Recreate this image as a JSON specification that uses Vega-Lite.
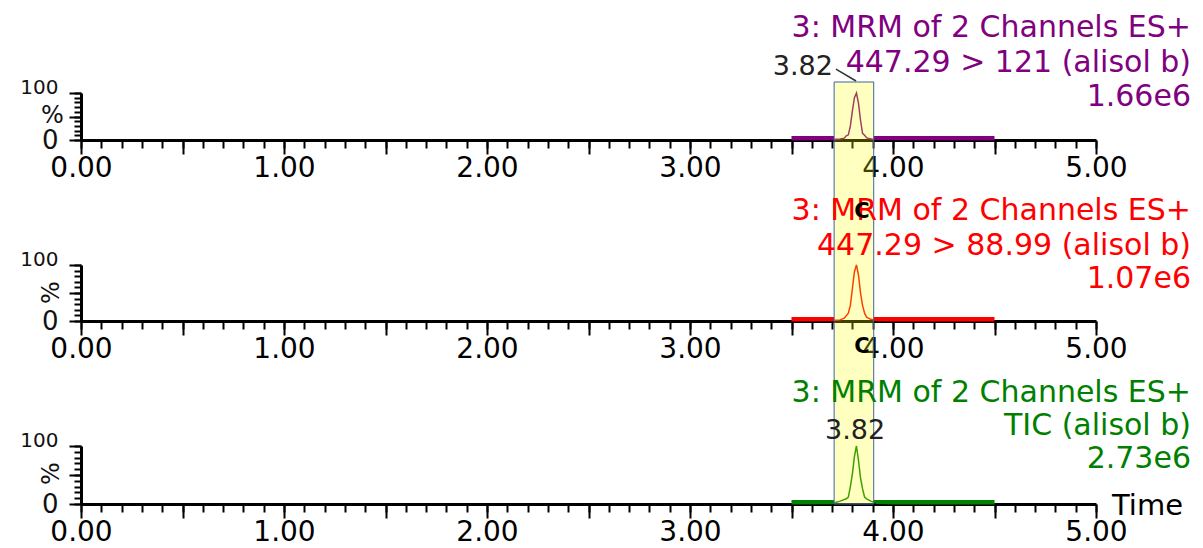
{
  "$schema": "https://vega.github.io/schema/vega-lite/v6.json",
  "autosize": {"type": "none"},
  "padding": {"left": 81, "top": 93, "right": 1122, "bottom": 455},
  "background": "white",
  "bounds": "flush",
  "spacing": 125,
  "config": {"view": {"stroke": null}, "font": "DejaVu Sans"},
  "datasets": {
    "trace": [
      {"p": 1, "t": 3.50, "v": 0.5}, {"p": 1, "t": 3.60, "v": 0.5}, {"p": 1, "t": 3.70, "v": 1}, {"p": 1, "t": 3.74, "v": 2},
      {"p": 1, "t": 3.76, "v": 4}, {"p": 1, "t": 3.77, "v": 9}, {"p": 1, "t": 3.78, "v": 11}, {"p": 1, "t": 3.79, "v": 30},
      {"p": 1, "t": 3.80, "v": 62}, {"p": 1, "t": 3.81, "v": 90}, {"p": 1, "t": 3.82, "v": 100}, {"p": 1, "t": 3.83, "v": 78},
      {"p": 1, "t": 3.84, "v": 42}, {"p": 1, "t": 3.85, "v": 14}, {"p": 1, "t": 3.86, "v": 10}, {"p": 1, "t": 3.87, "v": 5},
      {"p": 1, "t": 3.88, "v": 3}, {"p": 1, "t": 3.90, "v": 1.5}, {"p": 1, "t": 4.00, "v": 0.8}, {"p": 1, "t": 4.50, "v": 0.5},
      {"p": 2, "t": 3.50, "v": 0.5}, {"p": 2, "t": 3.70, "v": 1}, {"p": 2, "t": 3.74, "v": 2}, {"p": 2, "t": 3.76, "v": 5},
      {"p": 2, "t": 3.78, "v": 14}, {"p": 2, "t": 3.79, "v": 28}, {"p": 2, "t": 3.80, "v": 58}, {"p": 2, "t": 3.81, "v": 88},
      {"p": 2, "t": 3.82, "v": 100}, {"p": 2, "t": 3.83, "v": 82}, {"p": 2, "t": 3.84, "v": 50}, {"p": 2, "t": 3.85, "v": 28},
      {"p": 2, "t": 3.86, "v": 14}, {"p": 2, "t": 3.87, "v": 7}, {"p": 2, "t": 3.89, "v": 3}, {"p": 2, "t": 3.92, "v": 1},
      {"p": 2, "t": 4.00, "v": 0.5}, {"p": 2, "t": 4.50, "v": 0.5},
      {"p": 3, "t": 3.50, "v": 0.5}, {"p": 3, "t": 3.70, "v": 1}, {"p": 3, "t": 3.74, "v": 5}, {"p": 3, "t": 3.77, "v": 9},
      {"p": 3, "t": 3.78, "v": 12}, {"p": 3, "t": 3.79, "v": 30}, {"p": 3, "t": 3.80, "v": 52}, {"p": 3, "t": 3.81, "v": 82},
      {"p": 3, "t": 3.82, "v": 100}, {"p": 3, "t": 3.83, "v": 75}, {"p": 3, "t": 3.84, "v": 45}, {"p": 3, "t": 3.85, "v": 26},
      {"p": 3, "t": 3.86, "v": 12}, {"p": 3, "t": 3.87, "v": 9}, {"p": 3, "t": 3.89, "v": 5}, {"p": 3, "t": 3.92, "v": 1.5},
      {"p": 3, "t": 4.00, "v": 0.5}, {"p": 3, "t": 4.50, "v": 0.5}
    ],
    "base": [
      {"p": 1, "t1": 3.5, "t2": 3.71}, {"p": 1, "t1": 3.905, "t2": 4.5},
      {"p": 2, "t1": 3.5, "t2": 3.71}, {"p": 2, "t1": 3.905, "t2": 4.5},
      {"p": 3, "t1": 3.5, "t2": 3.71}, {"p": 3, "t1": 3.905, "t2": 4.5}
    ],
    "titles": [
      {"p": 1, "t": 5.468, "v": 219.1, "s": "3: MRM of 2 Channels ES+"},
      {"p": 1, "t": 5.468, "v": 145.7, "s": "447.29 > 121 (alisol b)"},
      {"p": 1, "t": 5.468, "v": 71.3, "s": "1.66e6"},
      {"p": 2, "t": 5.468, "v": 180.4, "s": "3: MRM of 2 Channels ES+"},
      {"p": 2, "t": 5.468, "v": 117.9, "s": "447.29 > 88.99 (alisol b)"},
      {"p": 2, "t": 5.468, "v": 58.9, "s": "1.07e6"},
      {"p": 3, "t": 5.468, "v": 175.9, "s": "3: MRM of 2 Channels ES+"},
      {"p": 3, "t": 5.468, "v": 119.0, "s": "TIC (alisol b)"},
      {"p": 3, "t": 5.468, "v": 62.1, "s": "2.73e6"}
    ],
    "peaklab": [
      {"p": 1, "t": 3.704, "v": 138.3, "s": "3.82"},
      {"p": 3, "t": 3.813, "v": 112.1, "s": "3.82"}
    ],
    "clab": [
      {"p": 2, "t": 3.847, "v": 183.9, "s": "C"},
      {"p": 3, "t": 3.847, "v": 260.3, "s": "C"}
    ],
    "leader": [
      {"p": 1, "t1": 3.719, "v1": 151, "t2": 3.818, "v2": 125.5}
    ],
    "timelab": [
      {"p": 3, "t": 5.079, "v": -19.0, "s": "Time"}
    ],
    "win": [
      {"p": 1, "t1": 3.71, "t2": 3.905, "v1": 123.4, "v2": -266.0},
      {"p": 2, "t1": 3.71, "t2": 3.905, "v1": 100, "v2": -223.2},
      {"p": 3, "t1": 3.71, "t2": 3.905, "v1": 100, "v2": 0}
    ],
    "hedge": [
      {"p": 1, "t1": 3.71, "t2": 3.905, "v": 123.4},
      {"p": 3, "t1": 3.71, "t2": 3.905, "v": 0}
    ]
  },
  "vconcat": [
    {
      "width": 1015, "height": 47,
      "resolve": {"axis": {"x": "independent", "y": "independent"}},
      "layer": [
        {"data": {"name": "trace"}, "transform": [{"filter": "datum.p == 1"}],
         "mark": {"type": "line", "color": "#800080", "strokeWidth": 1.5},
         "encoding": {
           "x": {"field": "t", "type": "quantitative", "scale": {"domain": [0, 5], "nice": false, "zero": false},
                 "axis": {"orient": "bottom", "values": [0,0.1,0.2,0.3,0.4,0.5,0.6,0.7,0.8,0.9,1,1.1,1.2,1.3,1.4,1.5,1.6,1.7,1.8,1.9,2,2.1,2.2,2.3,2.4,2.5,2.6,2.7,2.8,2.9,3,3.1,3.2,3.3,3.4,3.5,3.6,3.7,3.8,3.9,4,4.1,4.2,4.3,4.4,4.5,4.6,4.7,4.8,4.9,5],
                          "labels": false, "tickSize": 8, "tickWidth": 2, "tickColor": "black", "domainWidth": 3, "domainColor": "black", "grid": false, "title": null}},
           "y": {"field": "v", "type": "quantitative", "scale": {"domain": [0, 100], "nice": false, "zero": false},
                 "axis": {"orient": "left", "values": [0,10,20,30,40,50,60,70,80,90,100], "labels": false,
                          "tickSize": 7, "tickWidth": 2, "tickColor": "black", "domainWidth": 3, "domainColor": "black", "grid": false,
                          "title": "%", "titleFont": "DejaVu Sans", "titleFontSize": 24, "titleFontWeight": "normal",
                          "titleAngle": 0, "titleX": -29, "titleY": 22, "titleAlign": "center", "titleBaseline": "middle", "titleColor": "#111111"}}
         }},
        {"data": {"name": "base"}, "transform": [{"filter": "datum.p == 1"}],
         "mark": {"type": "rule", "color": "#800080", "strokeWidth": 3, "yOffset": -2.5},
         "encoding": {
           "x": {"field": "t1", "type": "quantitative",
                 "axis": {"orient": "bottom", "values": [0,0.5,1,1.5,2,2.5,3,3.5,4,4.5,5],
                          "labelExpr": "abs(datum.value - round(datum.value)) < 0.001 ? format(datum.value, '.2f') : ''",
                          "tickSize": 14, "tickWidth": 2, "tickColor": "black", "domain": false,
                          "labelFontSize": 28, "labelFont": "DejaVu Sans", "labelColor": "black", "labelPadding": 0,
                          "labelOverlap": false, "labelFlush": false, "grid": false, "title": null}},
           "x2": {"field": "t2"},
           "y": {"datum": 0, "type": "quantitative",
                 "axis": {"orient": "left", "values": [0,50,100],
                          "labelExpr": "datum.value == 0 ? '0' : (datum.value == 100 ? '100' : '')",
                          "labelFontSize": {"condition": {"test": "datum.value == 100", "value": 20}, "value": 26},
                          "labelBaseline": {"condition": {"test": "datum.value == 100", "value": "alphabetic"}, "value": "middle"},
                          "tickSize": 12, "tickWidth": 2, "tickColor": "black", "domain": false,
                          "labelFont": "DejaVu Sans", "labelColor": "#111111", "labelPadding": 11,
                          "labelOverlap": false, "labelFlush": false, "grid": false, "title": null}}}},
        {"data": {"name": "titles"}, "transform": [{"filter": "datum.p == 1"}],
         "mark": {"type": "text", "align": "right", "baseline": "alphabetic", "font": "DejaVu Sans", "fontSize": 30, "color": "#800080"},
         "encoding": {"x": {"field": "t", "type": "quantitative", "axis": null}, "y": {"field": "v", "type": "quantitative", "axis": null}, "text": {"field": "s"}}},
        {"data": {"name": "peaklab"}, "transform": [{"filter": "datum.p == 1"}],
         "mark": {"type": "text", "align": "right", "baseline": "alphabetic", "font": "DejaVu Sans", "fontSize": 27, "color": "#222222"},
         "encoding": {"x": {"field": "t", "type": "quantitative", "axis": null}, "y": {"field": "v", "type": "quantitative", "axis": null}, "text": {"field": "s"}}},
        {"data": {"name": "leader"}, "transform": [{"filter": "datum.p == 1"}],
         "mark": {"type": "rule", "color": "#333333", "strokeWidth": 1.5},
         "encoding": {"x": {"field": "t1", "type": "quantitative", "axis": null}, "x2": {"field": "t2"}, "y": {"field": "v1", "type": "quantitative", "axis": null}, "y2": {"field": "v2"}}},
        {"data": {"name": "win"}, "transform": [{"filter": "datum.p == 1"}],
         "mark": {"type": "rect", "color": "#FFFF00", "opacity": 0.25},
         "encoding": {"x": {"field": "t1", "type": "quantitative", "axis": null}, "x2": {"field": "t2"}, "y": {"field": "v1", "type": "quantitative", "axis": null}, "y2": {"field": "v2"}}},
        {"data": {"name": "win"}, "transform": [{"filter": "datum.p == 1"}],
         "mark": {"type": "rule", "color": "#3C64A0", "strokeWidth": 1},
         "encoding": {"x": {"field": "t1", "type": "quantitative", "axis": null}, "y": {"field": "v1", "type": "quantitative", "axis": null}, "y2": {"field": "v2"}}},
        {"data": {"name": "win"}, "transform": [{"filter": "datum.p == 1"}],
         "mark": {"type": "rule", "color": "#3C64A0", "strokeWidth": 1},
         "encoding": {"x": {"field": "t2", "type": "quantitative", "axis": null}, "y": {"field": "v1", "type": "quantitative", "axis": null}, "y2": {"field": "v2"}}},
        {"data": {"name": "hedge"}, "transform": [{"filter": "datum.p == 1"}],
         "mark": {"type": "rule", "color": "#3C64A0", "strokeWidth": 1},
         "encoding": {"x": {"field": "t1", "type": "quantitative", "axis": null}, "x2": {"field": "t2"}, "y": {"field": "v", "type": "quantitative", "axis": null}}}
      ]
    },
    {
      "width": 1015, "height": 56,
      "resolve": {"axis": {"x": "independent", "y": "independent"}},
      "layer": [
        {"data": {"name": "trace"}, "transform": [{"filter": "datum.p == 2"}],
         "mark": {"type": "line", "color": "#FF0000", "strokeWidth": 1.5},
         "encoding": {
           "x": {"field": "t", "type": "quantitative", "scale": {"domain": [0, 5], "nice": false, "zero": false},
                 "axis": {"orient": "bottom", "values": [0,0.1,0.2,0.3,0.4,0.5,0.6,0.7,0.8,0.9,1,1.1,1.2,1.3,1.4,1.5,1.6,1.7,1.8,1.9,2,2.1,2.2,2.3,2.4,2.5,2.6,2.7,2.8,2.9,3,3.1,3.2,3.3,3.4,3.5,3.6,3.7,3.8,3.9,4,4.1,4.2,4.3,4.4,4.5,4.6,4.7,4.8,4.9,5],
                          "labels": false, "tickSize": 8, "tickWidth": 2, "tickColor": "black", "domainWidth": 3, "domainColor": "black", "grid": false, "title": null}},
           "y": {"field": "v", "type": "quantitative", "scale": {"domain": [0, 100], "nice": false, "zero": false},
                 "axis": {"orient": "left", "values": [0,10,20,30,40,50,60,70,80,90,100], "labels": false,
                          "tickSize": 7, "tickWidth": 2, "tickColor": "black", "domainWidth": 3, "domainColor": "black", "grid": false,
                          "title": "%", "titleFont": "DejaVu Sans", "titleFontSize": 24, "titleFontWeight": "normal",
                          "titleAngle": -90, "titleX": -30, "titleY": 27, "titleAlign": "center", "titleBaseline": "middle", "titleColor": "#111111"}}
         }},
        {"data": {"name": "base"}, "transform": [{"filter": "datum.p == 2"}],
         "mark": {"type": "rule", "color": "#FF0000", "strokeWidth": 3, "yOffset": -2.5},
         "encoding": {
           "x": {"field": "t1", "type": "quantitative",
                 "axis": {"orient": "bottom", "values": [0,0.5,1,1.5,2,2.5,3,3.5,4,4.5,5],
                          "labelExpr": "abs(datum.value - round(datum.value)) < 0.001 ? format(datum.value, '.2f') : ''",
                          "tickSize": 14, "tickWidth": 2, "tickColor": "black", "domain": false,
                          "labelFontSize": 28, "labelFont": "DejaVu Sans", "labelColor": "black", "labelPadding": 0,
                          "labelOverlap": false, "labelFlush": false, "grid": false, "title": null}},
           "x2": {"field": "t2"},
           "y": {"datum": 0, "type": "quantitative",
                 "axis": {"orient": "left", "values": [0,50,100],
                          "labelExpr": "datum.value == 0 ? '0' : (datum.value == 100 ? '100' : '')",
                          "labelFontSize": {"condition": {"test": "datum.value == 100", "value": 20}, "value": 26},
                          "labelBaseline": {"condition": {"test": "datum.value == 100", "value": "alphabetic"}, "value": "middle"},
                          "tickSize": 12, "tickWidth": 2, "tickColor": "black", "domain": false,
                          "labelFont": "DejaVu Sans", "labelColor": "#111111", "labelPadding": 11,
                          "labelOverlap": false, "labelFlush": false, "grid": false, "title": null}}}},
        {"data": {"name": "titles"}, "transform": [{"filter": "datum.p == 2"}],
         "mark": {"type": "text", "align": "right", "baseline": "alphabetic", "font": "DejaVu Sans", "fontSize": 30, "color": "#FF0000"},
         "encoding": {"x": {"field": "t", "type": "quantitative", "axis": null}, "y": {"field": "v", "type": "quantitative", "axis": null}, "text": {"field": "s"}}},
        {"data": {"name": "clab"}, "transform": [{"filter": "datum.p == 2"}],
         "mark": {"type": "text", "align": "center", "baseline": "alphabetic", "font": "DejaVu Sans", "fontSize": 21, "fontWeight": "bold", "color": "#000000"},
         "encoding": {"x": {"field": "t", "type": "quantitative", "axis": null}, "y": {"field": "v", "type": "quantitative", "axis": null}, "text": {"field": "s"}}},
        {"data": {"name": "win"}, "transform": [{"filter": "datum.p == 2"}],
         "mark": {"type": "rect", "color": "#FFFF00", "opacity": 0.25},
         "encoding": {"x": {"field": "t1", "type": "quantitative", "axis": null}, "x2": {"field": "t2"}, "y": {"field": "v1", "type": "quantitative", "axis": null}, "y2": {"field": "v2"}}},
        {"data": {"name": "win"}, "transform": [{"filter": "datum.p == 2"}],
         "mark": {"type": "rule", "color": "#3C64A0", "strokeWidth": 1},
         "encoding": {"x": {"field": "t1", "type": "quantitative", "axis": null}, "y": {"field": "v1", "type": "quantitative", "axis": null}, "y2": {"field": "v2"}}},
        {"data": {"name": "win"}, "transform": [{"filter": "datum.p == 2"}],
         "mark": {"type": "rule", "color": "#3C64A0", "strokeWidth": 1},
         "encoding": {"x": {"field": "t2", "type": "quantitative", "axis": null}, "y": {"field": "v1", "type": "quantitative", "axis": null}, "y2": {"field": "v2"}}}
      ]
    },
    {
      "width": 1015, "height": 58,
      "resolve": {"axis": {"x": "independent", "y": "independent"}},
      "layer": [
        {"data": {"name": "trace"}, "transform": [{"filter": "datum.p == 3"}],
         "mark": {"type": "line", "color": "#008000", "strokeWidth": 1.5},
         "encoding": {
           "x": {"field": "t", "type": "quantitative", "scale": {"domain": [0, 5], "nice": false, "zero": false},
                 "axis": {"orient": "bottom", "values": [0,0.1,0.2,0.3,0.4,0.5,0.6,0.7,0.8,0.9,1,1.1,1.2,1.3,1.4,1.5,1.6,1.7,1.8,1.9,2,2.1,2.2,2.3,2.4,2.5,2.6,2.7,2.8,2.9,3,3.1,3.2,3.3,3.4,3.5,3.6,3.7,3.8,3.9,4,4.1,4.2,4.3,4.4,4.5,4.6,4.7,4.8,4.9,5],
                          "labels": false, "tickSize": 8, "tickWidth": 2, "tickColor": "black", "domainWidth": 3, "domainColor": "black", "grid": false, "title": null}},
           "y": {"field": "v", "type": "quantitative", "scale": {"domain": [0, 100], "nice": false, "zero": false},
                 "axis": {"orient": "left", "values": [0,10,20,30,40,50,60,70,80,90,100], "labels": false,
                          "tickSize": 7, "tickWidth": 2, "tickColor": "black", "domainWidth": 3, "domainColor": "black", "grid": false,
                          "title": "%", "titleFont": "DejaVu Sans", "titleFontSize": 24, "titleFontWeight": "normal",
                          "titleAngle": -90, "titleX": -30, "titleY": 27, "titleAlign": "center", "titleBaseline": "middle", "titleColor": "#111111"}}
         }},
        {"data": {"name": "base"}, "transform": [{"filter": "datum.p == 3"}],
         "mark": {"type": "rule", "color": "#008000", "strokeWidth": 3, "yOffset": -2.5},
         "encoding": {
           "x": {"field": "t1", "type": "quantitative",
                 "axis": {"orient": "bottom", "values": [0,0.5,1,1.5,2,2.5,3,3.5,4,4.5,5],
                          "labelExpr": "abs(datum.value - round(datum.value)) < 0.001 ? format(datum.value, '.2f') : ''",
                          "tickSize": 14, "tickWidth": 2, "tickColor": "black", "domain": false,
                          "labelFontSize": 28, "labelFont": "DejaVu Sans", "labelColor": "black", "labelPadding": 0,
                          "labelOverlap": false, "labelFlush": false, "grid": false, "title": null}},
           "x2": {"field": "t2"},
           "y": {"datum": 0, "type": "quantitative",
                 "axis": {"orient": "left", "values": [0,50,100],
                          "labelExpr": "datum.value == 0 ? '0' : (datum.value == 100 ? '100' : '')",
                          "labelFontSize": {"condition": {"test": "datum.value == 100", "value": 20}, "value": 26},
                          "labelBaseline": {"condition": {"test": "datum.value == 100", "value": "alphabetic"}, "value": "middle"},
                          "tickSize": 12, "tickWidth": 2, "tickColor": "black", "domain": false,
                          "labelFont": "DejaVu Sans", "labelColor": "#111111", "labelPadding": 11,
                          "labelOverlap": false, "labelFlush": false, "grid": false, "title": null}}}},
        {"data": {"name": "titles"}, "transform": [{"filter": "datum.p == 3"}],
         "mark": {"type": "text", "align": "right", "baseline": "alphabetic", "font": "DejaVu Sans", "fontSize": 30, "color": "#008000"},
         "encoding": {"x": {"field": "t", "type": "quantitative", "axis": null}, "y": {"field": "v", "type": "quantitative", "axis": null}, "text": {"field": "s"}}},
        {"data": {"name": "peaklab"}, "transform": [{"filter": "datum.p == 3"}],
         "mark": {"type": "text", "align": "center", "baseline": "alphabetic", "font": "DejaVu Sans", "fontSize": 27, "color": "#222222"},
         "encoding": {"x": {"field": "t", "type": "quantitative", "axis": null}, "y": {"field": "v", "type": "quantitative", "axis": null}, "text": {"field": "s"}}},
        {"data": {"name": "clab"}, "transform": [{"filter": "datum.p == 3"}],
         "mark": {"type": "text", "align": "center", "baseline": "alphabetic", "font": "DejaVu Sans", "fontSize": 21, "fontWeight": "bold", "color": "#000000"},
         "encoding": {"x": {"field": "t", "type": "quantitative", "axis": null}, "y": {"field": "v", "type": "quantitative", "axis": null}, "text": {"field": "s"}}},
        {"data": {"name": "timelab"},
         "mark": {"type": "text", "align": "left", "baseline": "alphabetic", "font": "DejaVu Sans", "fontSize": 29, "color": "#000000"},
         "encoding": {"x": {"field": "t", "type": "quantitative", "axis": null}, "y": {"field": "v", "type": "quantitative", "axis": null}, "text": {"field": "s"}}},
        {"data": {"name": "win"}, "transform": [{"filter": "datum.p == 3"}],
         "mark": {"type": "rect", "color": "#FFFF00", "opacity": 0.25},
         "encoding": {"x": {"field": "t1", "type": "quantitative", "axis": null}, "x2": {"field": "t2"}, "y": {"field": "v1", "type": "quantitative", "axis": null}, "y2": {"field": "v2"}}},
        {"data": {"name": "win"}, "transform": [{"filter": "datum.p == 3"}],
         "mark": {"type": "rule", "color": "#3C64A0", "strokeWidth": 1},
         "encoding": {"x": {"field": "t1", "type": "quantitative", "axis": null}, "y": {"field": "v1", "type": "quantitative", "axis": null}, "y2": {"field": "v2"}}},
        {"data": {"name": "win"}, "transform": [{"filter": "datum.p == 3"}],
         "mark": {"type": "rule", "color": "#3C64A0", "strokeWidth": 1},
         "encoding": {"x": {"field": "t2", "type": "quantitative", "axis": null}, "y": {"field": "v1", "type": "quantitative", "axis": null}, "y2": {"field": "v2"}}},
        {"data": {"name": "hedge"}, "transform": [{"filter": "datum.p == 3"}],
         "mark": {"type": "rule", "color": "#3C64A0", "strokeWidth": 1},
         "encoding": {"x": {"field": "t1", "type": "quantitative", "axis": null}, "x2": {"field": "t2"}, "y": {"field": "v", "type": "quantitative", "axis": null}}}
      ]
    }
  ]
}
